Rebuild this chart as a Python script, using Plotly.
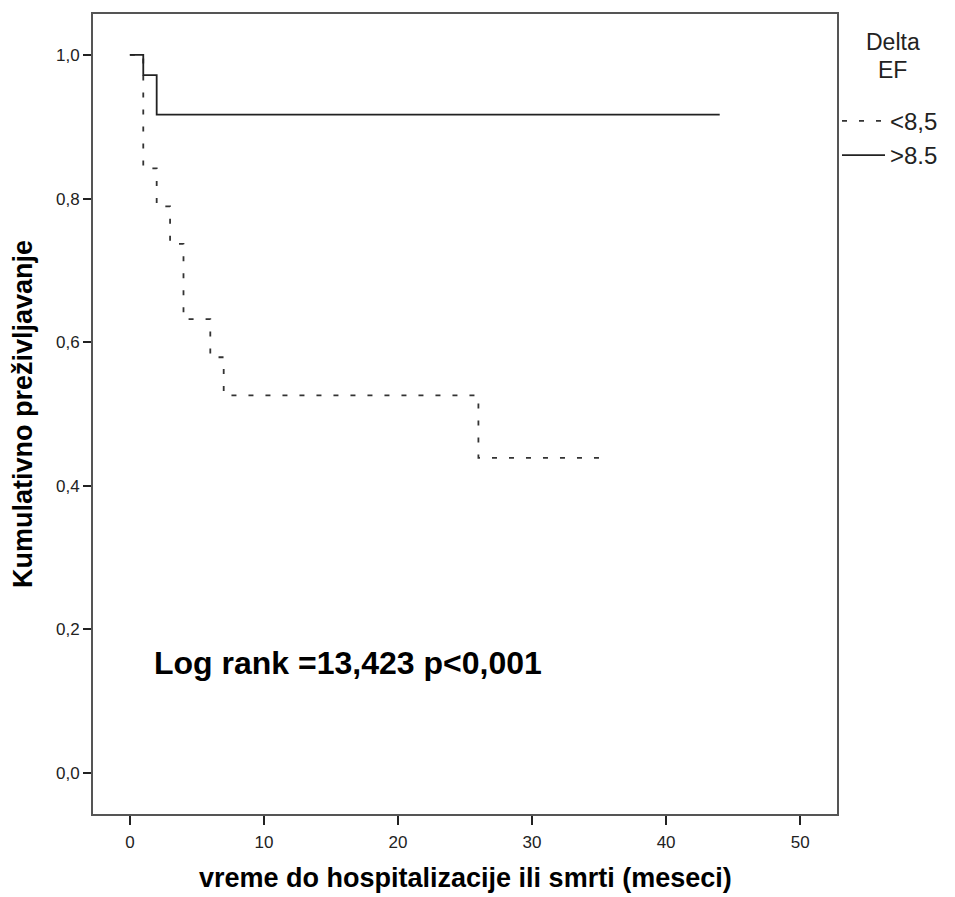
import plotly.graph_objects as go

# Data (Kaplan-Meier steps)
low_time = [0, 1, 2, 3, 4, 6, 7, 26, 35.3]
low_surv = [1.0, 0.842, 0.789, 0.737, 0.632, 0.579, 0.526, 0.439, 0.439]
high_time = [0, 1, 2, 44]
high_surv = [1.0, 0.972, 0.917, 0.917]
series_names = ["<8,5", ">8.5"]
legend_title_lines = ["Delta", "EF"]
x_ticks = [0, 10, 20, 30, 40, 50]
y_ticks = [0.0, 0.2, 0.4, 0.6, 0.8, 1.0]
x_title = "vreme do hospitalizacije ili smrti (meseci)"
y_title = "Kumulativno preživljavanje"

L, R, T, B = 93, 840, 12, 814  # plot frame in pixels

fig = go.Figure()
fig.add_trace(go.Scatter(
    x=low_time, y=low_surv, mode="lines", line_shape="hv", name=series_names[0],
    legendgroup="a",
    line=dict(color="#333333", width=1.8, dash="5px,12px")))
fig.add_trace(go.Scatter(
    x=high_time, y=high_surv, mode="lines", line_shape="hv", name=series_names[1],
    legendgroup="b",
    line=dict(color="#222222", width=1.8)))

fig.add_annotation(
    x=(152 - L) / (R - L), y=(B - 663) / (B - T), xref="paper", yref="paper",
    xanchor="left", yanchor="middle", showarrow=False,
    text="<b>Log rank =13,423 p<0,001</b>",
    font=dict(family="Liberation Sans, Arial", size=32, color="black"))
for line_text, ypix in zip(legend_title_lines, [40, 68]):
    fig.add_annotation(
        x=(896 - L) / (R - L), y=(B - ypix) / (B - T), xref="paper", yref="paper",
        xanchor="center", yanchor="middle", showarrow=False,
        text=line_text,
        font=dict(family="Liberation Sans, Arial", size=23, color="#222222"))
fig.add_annotation(
    x=0.5 * (200 + 735 - 2 * L) / (R - L), y=(B - 878) / (B - T), xref="paper", yref="paper",
    xanchor="center", yanchor="middle", showarrow=False,
    text="<b>" + x_title + "</b>",
    font=dict(family="Liberation Sans, Arial", size=27, color="black"))

fig.update_layout(
    width=955, height=897,
    margin=dict(l=L, r=955 - R, t=T, b=897 - B),
    paper_bgcolor="white", plot_bgcolor="white",
    separators=",.",
    showlegend=True,
    legend=dict(x=1.0, xanchor="left", y=(B - 97) / (B - T), yanchor="top",
                traceorder="grouped", tracegroupgap=0,
                font=dict(family="Liberation Sans, Arial", size=24, color="#222222"),
                bgcolor="rgba(0,0,0,0)", itemwidth=43),
    xaxis=dict(range=[-2.75, 52.75], tickvals=x_ticks, ticks="outside", ticklen=9,
               tickwidth=1.5, tickcolor="#222", showgrid=False, zeroline=False,
               showline=True, linecolor="#555555", linewidth=2, mirror=True,
               ticklabelstandoff=3,
               tickfont=dict(family="Liberation Sans, Arial", size=17, color="#222")),
    yaxis=dict(range=[-0.057, 1.057], tickvals=y_ticks, tickformat=".1f", ticks="outside",
               ticklen=8, tickwidth=1.5, tickcolor="#222", showgrid=False, zeroline=False,
               showline=True, linecolor="#555555", linewidth=2, mirror=True,
               tickfont=dict(family="Liberation Sans, Arial", size=17, color="#222"),
               title=dict(text="<b>" + y_title + "</b>",
                          font=dict(family="Liberation Sans, Arial", size=27, color="black"),
                          standoff=16)),
)

fig.write_html("out.html")
